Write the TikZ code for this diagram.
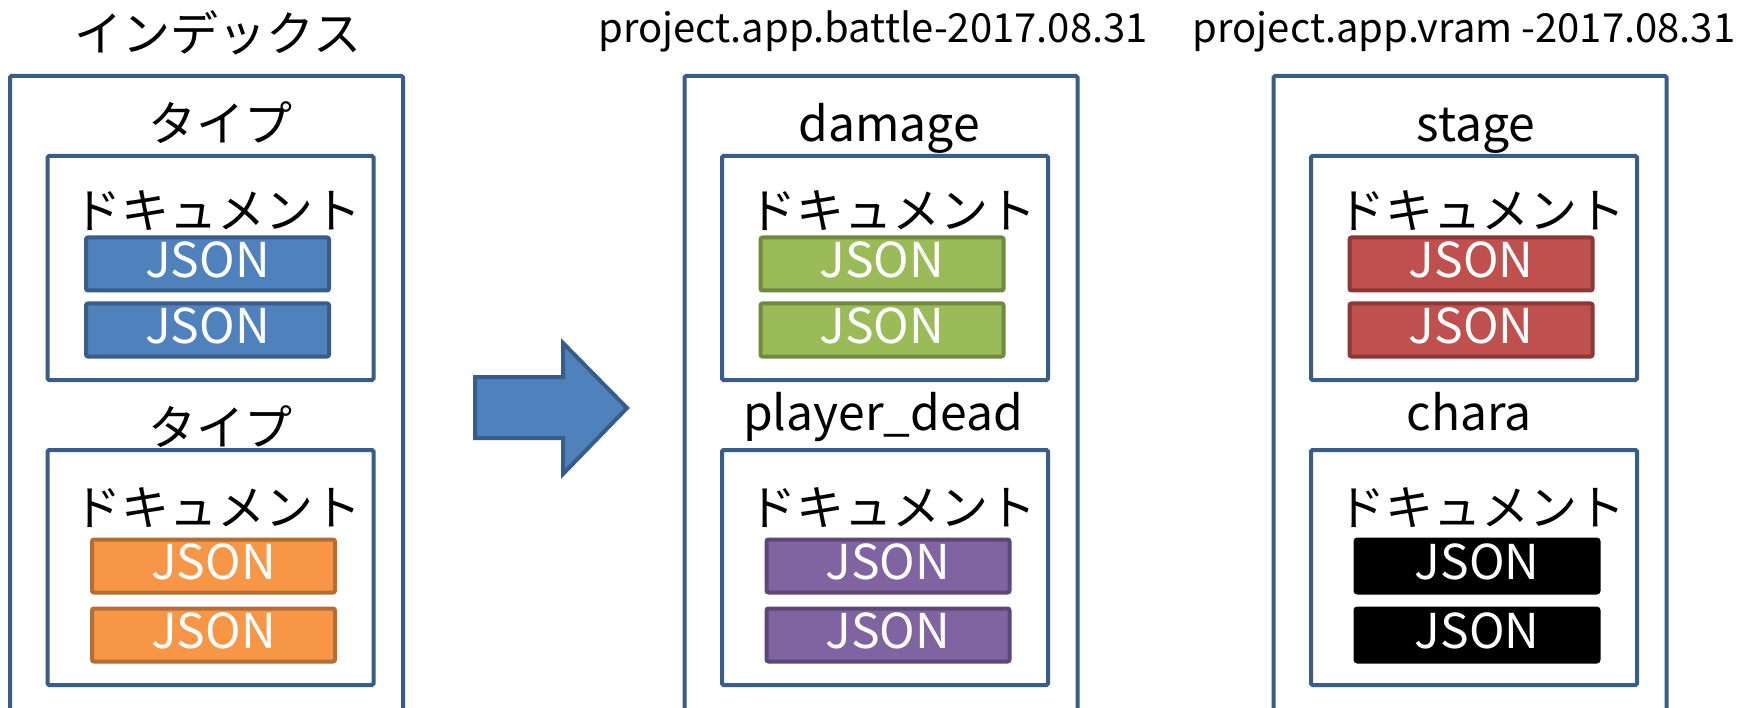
\documentclass[tikz,border=0pt]{standalone}
\usepackage{fontspec}
\setmainfont{Noto Sans CJK JP}
\usetikzlibrary{positioning}
\definecolor{frameblue}{HTML}{385D8A}
\definecolor{jblue}{HTML}{4F81BD}
\definecolor{jblueline}{HTML}{385D8A}
\definecolor{jorange}{HTML}{F79646}
\definecolor{jorangeline}{HTML}{B66D31}
\definecolor{jgreen}{HTML}{9BBB59}
\definecolor{jgreenline}{HTML}{71893F}
\definecolor{jred}{HTML}{C0504D}
\definecolor{jredline}{HTML}{8C3836}
\definecolor{jpurple}{HTML}{8064A2}
\definecolor{jpurpleline}{HTML}{5C4776}
\definecolor{jblack}{HTML}{000000}
\definecolor{jblackline}{HTML}{000000}

\tikzset{
  frame/.style={draw=frameblue, line width=4pt, fill=white, inner sep=0pt, rounded corners=1.5pt},
  jsonbox/.style={draw=#1line, fill=#1, line width=4pt, rounded corners=2pt,
    minimum width=243pt, minimum height=53pt, inner sep=0pt, text=white,
    text height=36pt, text depth=9pt, font=\fontsize{48}{56}\selectfont},
  boxlabel/.style={inner sep=0pt, anchor=base, font=\fontsize{48}{56}\selectfont},
  titlelabel/.style={inner sep=0pt, anchor=base, font=\fontsize{40}{46}\selectfont}
}

\begin{document}
\begin{tikzpicture}[x=1pt, y=-1pt]
  \useasboundingbox (0,0) rectangle (1744,708);

  % titles
  \node[boxlabel] (idxtitle) at (218,52) {インデックス};
  \node[titlelabel] (battletitle) at (873,43) {project.app.battle-2017.08.31};
  \node[titlelabel] (vramtitle) at (1464,43) {project.app.vram -2017.08.31};

  % one column per index: index box, two type boxes, documents
  \foreach \nm/\cx/\tx/\bx/\yb/\ta/\tb/\ca/\cb in {
      idx/206.5/220/220/445/タイプ/タイプ/jblue/jorange,
      battle/881/889/883/430/damage/player\_dead/jgreen/jpurple,
      vram/1470/1476/1469/430/stage/chara/jred/jblack} {
    \node[frame, minimum width=393pt, minimum height=636pt, anchor=north] (\nm) at (\cx,74) {};
    \node[frame, minimum width=326pt, minimum height=224pt, anchor=north] (\nm-t1) at (\cx+4,154) {};
    \node[frame, minimum width=326pt, minimum height=235pt, anchor=north] (\nm-t2) at (\cx+4,448) {};

    % type names
    \node[boxlabel] (\nm-l1) at (\tx,142) {\ta};
    \node[boxlabel] (\nm-l2) at (\bx,\yb) {\tb};

    % documents
    \node[boxlabel] (\nm-d1) at (\cx+11,229) {ドキュメント};
    \node[boxlabel] (\nm-d2) at (\cx+11,525) {ドキュメント};
    \node[jsonbox=\ca] (\nm-j1) at (\cx+1,264) {JSON};
    \node[jsonbox=\ca] (\nm-j2) at (\cx+1,330) {JSON};
    \node[jsonbox=\cb] (\nm-j3) at (\cx+7,566) {JSON};
    \node[jsonbox=\cb] (\nm-j4) at (\cx+7,635) {JSON};
  }

  % block arrow from the old index to the new ones
  \draw[line width=4pt, draw=frameblue, fill=jblue]
    (475,377) -- (563,377) -- (563,343) -- (627,408) -- (563,474) -- (563,438) -- (475,438) -- cycle;
\end{tikzpicture}
\end{document}
